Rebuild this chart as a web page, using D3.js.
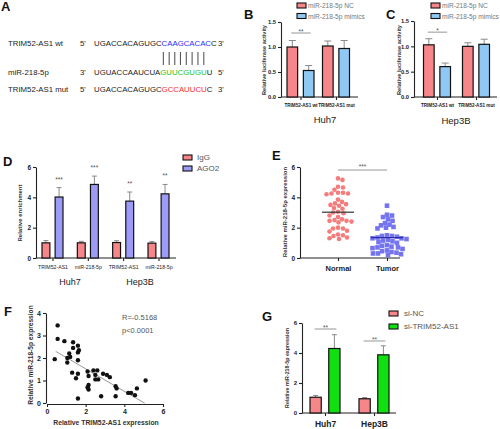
<!DOCTYPE html>
<html><head><meta charset="utf-8">
<script src="https://d3js.org/d3.v7.min.js"></script>
<style>
body{margin:0;background:#fff}
svg{display:block}
</style></head>
<body>
<svg id="chart" width="500" height="429"></svg>
<script>
// ---------------- DATA ----------------
const seqRowLabels = ["TRIM52-AS1 wt", "miR-218-5p", "TRIM52-AS1 mut"];
const seqRowEnds = [["5'", "3'"], ["3'", "5'"], ["5'", "3'"]];
const seqRowPre = ["UGACCACAGUGC", "UGUACCAAUCUA", "UGACCACAGUGC"];
const seqRowSite = ["CAAGCACAC", "GUUCGUGU", "GCCAUUCU"];
const seqRowPost = ["C", "U", "C"];
const pairedSiteCount = 8;

const lucSeries = ["miR-218-5p NC", "miR-218-5p mimics"];
const lucGroups = ["TRIM52-AS1 wt", "TRIM52-AS1 mut"];
const lucTicks = [0, 0.5, 1.0, 1.5];
const huh7LucMean = [[1.00, 1.02], [0.53, 0.97]];
const huh7LucSD = [[0.13, 0.10], [0.10, 0.16]];
const huh7LucSig = [{group: 0, level: 1.28, label: "**"}];
const hep3bLucMean = [[1.03, 1.00], [0.60, 1.04]];
const hep3bLucSD = [[0.12, 0.07], [0.07, 0.10]];
const hep3bLucSig = [{group: 0, level: 1.28, label: "*"}];

const ripSeries = ["IgG", "AGO2"];
const ripGroups = ["TRIM52-AS1", "miR-218-5p", "TRIM52-AS1", "miR-218-5p"];
const ripCells = ["Huh7", "Hep3B"];
const ripTicks = [0, 2, 4, 6];
const ripMean = [[1.0, 1.0, 1.02, 0.98], [4.02, 4.85, 3.75, 4.23]];
const ripSD = [[0.15, 0.1, 0.12, 0.1], [0.62, 0.55, 0.6, 0.62]];
const ripStars = ["***", "***", "**", "**"];

const tissueGroups = ["Normal", "Tumor"];
const exprTicks = [0, 2, 4, 6];
const normalExpr = [5.25, 5.15, 4.7, 4.65, 4.5, 4.3, 4.3, 4.25, 4.25, 4.2,
  3.85, 3.7, 3.6, 3.55, 3.5, 3.45, 3.3, 3.25, 3.05, 3.0,
  2.95, 2.8, 2.7, 2.55, 2.5, 2.45, 2.45, 2.4, 2.35, 2.0,
  1.95, 1.95, 1.8, 1.75, 1.55, 1.5, 1.45, 1.35, 1.25, 1.3];
const tumorExpr = [3.45, 2.85, 2.8, 2.7, 2.55, 2.45, 2.3, 2.2, 2.15, 2.05,
  2.0, 1.95, 1.5, 1.45, 1.45, 1.4, 1.35, 1.3, 1.3, 1.25,
  1.2, 1.15, 1.1, 1.05, 1.0, 0.85, 0.8, 0.75, 0.7, 0.7,
  0.65, 0.6, 0.5, 0.45, 0.4, 0.35, 0.3, 0.25, 0.2, 0.3];
const tissueSig = {level: 5.8, label: "***"};

const corrX = [0.55, 0.55, 0.9, 1.35, 1.6, 1.35, 1.65, 1.6, 1.15, 1.2,
  1.05, 0.4, 1.6, 1.05, 1.3, 1.6, 1.5, 1.6, 2.1, 2.15,
  2.15, 2.1, 2.15, 2.4, 2.6, 2.5, 2.5, 2.65, 2.8, 2.9,
  3.1, 3.25, 3.55, 3.6, 3.55, 4.2, 4.35, 4.55, 4.65, 5.1];
const corrY = [3.45, 2.85, 2.75, 2.7, 2.55, 2.45, 2.35, 2.25, 2.2, 2.05,
  2.0, 1.95, 1.9, 1.8, 1.35, 1.3, 1.1, 0.2, 1.4, 1.2,
  0.8, 0.7, 0.6, 1.45, 1.45, 1.25, 1.05, 1.05, 0.3, 1.3,
  1.25, 1.15, 0.75, 0.65, 0.3, 0.45, 0.45, 0.35, 0.65, 1.0];
const corrXTicks = [0, 2, 4, 6];
const corrYTicks = [0, 1, 2, 3, 4];
const corrStats = ["R=-0.5168", "p<0.0001"];
const corrFit = {intercept: 2.52, slope: -0.5, from: 0.45, to: 5.05};

const kdSeries = ["si-NC", "si-TRIM52-AS1"];
const kdGroups = ["Huh7", "Hep3B"];
const kdTicks = [0, 2, 4, 6];
const kdMean = [[1.05, 0.95], [4.3, 3.88]];
const kdSD = [[0.12, 0.08], [0.92, 0.6]];
const kdSig = [{group: 0, level: 5.6, label: "**"}, {group: 1, level: 4.8, label: "**"}];

// ---------------- STYLE ----------------
const FONT = '"Liberation Sans", Arial, sans-serif';
const INK = "#222";
const RED = "#f7868a";
const LBLUE = "#8fc9f3";
const LAV = "#9c9cf6";
const GREEN = "#10e010";
const ERR = "#8a8a8a";

const svg = d3.select("#chart").attr("font-family", FONT);

function letter(t, x, y) {
  svg.append("text").attr("x", x).attr("y", y).attr("font-size", 13)
    .attr("font-weight", "bold").attr("fill", "#111").text(t);
}
function styleAxis(sel, fs) {
  sel.attr("font-family", FONT).attr("font-size", fs);
  sel.selectAll("path,line").attr("stroke", INK).attr("stroke-width", 1.1);
  sel.selectAll("text").attr("fill", INK).attr("font-weight", "bold");
}
function yTitle(text, x, y, fs) {
  svg.append("text").attr("transform", `translate(${x},${y}) rotate(-90)`)
    .attr("text-anchor", "middle").attr("font-size", fs).attr("font-weight", "bold")
    .attr("fill", "#333").text(text);
}
function legend(items, colors, x, y0, dy, tx, fs, fill) {
  items.forEach((s, i) => {
    svg.append("rect").attr("x", x).attr("y", y0 + i * dy).attr("width", 9).attr("height", 5)
      .attr("fill", colors[i]).attr("stroke", "#111").attr("stroke-width", 1.1);
    svg.append("text").attr("x", tx).attr("y", y0 + i * dy + 5).attr("font-size", fs)
      .attr("fill", fill).text(s);
  });
}

function barPanel(o) {
  const g = svg.append("g");
  const y = d3.scaleLinear().domain(o.yDomain).range([o.yBottom, o.yTop]);
  const x = d3.scalePoint().domain(d3.range(o.groups.length)).range(o.groupRange);
  const xi = d3.scaleBand().domain(d3.range(o.series.length)).range([-o.half, o.half]).paddingInner(o.pad);
  const bw = xi.bandwidth();
  const ya = g.append("g").attr("transform", `translate(${o.axisX},0)`)
    .call(d3.axisLeft(y).tickValues(o.ticks).tickFormat(o.fmt).tickSize(3).tickSizeOuter(0).tickPadding(2));
  styleAxis(ya, o.tickFont);
  const xa = g.append("g").attr("transform", `translate(0,${o.yBottom})`)
    .call(d3.axisBottom(x).tickFormat(i => o.groups[i]).tickSize(3).tickPadding(o.xPad));
  xa.select(".domain").remove();
  styleAxis(xa, o.xFont);
  if (!o.xBold) xa.selectAll("text").attr("font-weight", "normal");
  g.append("line").attr("x1", o.axisX).attr("x2", o.axisEnd).attr("y1", o.yBottom).attr("y2", o.yBottom)
    .attr("stroke", INK).attr("stroke-width", 1.1);
  o.series.forEach((s, si) => {
    o.groups.forEach((gr, gi) => {
      const v = o.values[si][gi], e = o.errs[si][gi];
      const bx = x(gi) + xi(si), cx = bx + bw / 2;
      g.append("line").attr("x1", cx).attr("x2", cx).attr("y1", y(v)).attr("y2", y(v + e))
        .attr("stroke", ERR).attr("stroke-width", 1);
      g.append("line").attr("x1", cx - o.cap).attr("x2", cx + o.cap).attr("y1", y(v + e)).attr("y2", y(v + e))
        .attr("stroke", ERR).attr("stroke-width", 1);
      g.append("rect").attr("x", bx).attr("y", y(v)).attr("width", bw).attr("height", y(0) - y(v))
        .attr("fill", o.colors[si]).attr("stroke", "#111").attr("stroke-width", 1.2);
    });
  });
  (o.sig || []).forEach(s => {
    const x1 = x(s.group) + xi(0) + bw / 2 - 1, x2 = x(s.group) + xi(1) + bw / 2 + 2;
    g.append("line").attr("x1", x1).attr("x2", x2).attr("y1", y(s.level)).attr("y2", y(s.level))
      .attr("stroke", ERR).attr("stroke-width", 0.9);
    g.append("text").attr("x", (x1 + x2) / 2).attr("y", y(s.level) + 0.5).attr("text-anchor", "middle")
      .attr("font-size", o.sigFont).attr("fill", "#555").text(s.label);
  });
  (o.stars || []).forEach((st, gi) => {
    const cx = x(gi) + xi(1) + bw / 2;
    const top = y(o.values[1][gi] + o.errs[1][gi]);
    g.append("text").attr("x", cx).attr("y", top - 6).attr("text-anchor", "middle")
      .attr("font-size", o.sigFont).attr("fill", "#555").text(st);
  });
  return {x, y};
}

// ---------------- PANEL A ----------------
letter("A", 1, 11);
const aRowsY = [46, 75, 92];
const siteColors = ["#2b2bff", "#22c822", "#ff2b2b"];
const aG = svg.append("g").attr("font-size", 7.8).attr("fill", INK);
let mirNode = null;
seqRowLabels.forEach((lab, i) => {
  aG.append("text").attr("x", 8).attr("y", aRowsY[i]).text(lab);
  aG.append("text").attr("x", 80).attr("y", aRowsY[i]).text(seqRowEnds[i][0]);
  const t = aG.append("text").attr("x", 94).attr("y", aRowsY[i]);
  t.append("tspan").text(seqRowPre[i]);
  t.append("tspan").attr("fill", siteColors[i]).text(seqRowSite[i]);
  t.append("tspan").text(seqRowPost[i]);
  aG.append("text").attr("x", 218).attr("y", aRowsY[i]).text(seqRowEnds[i][1]);
  if (i === 1) mirNode = t.node();
});
d3.range(pairedSiteCount).forEach(k => {
  const idx = seqRowPre[1].length + k;
  const ext = mirNode.getExtentOfChar(idx);
  const cx = ext.x + ext.width / 2;
  aG.append("line").attr("x1", cx).attr("x2", cx).attr("y1", 52).attr("y2", 65)
    .attr("stroke", "#333").attr("stroke-width", 0.9);
});

// ---------------- PANEL B ----------------
letter("B", 244, 19);
legend(lucSeries, [RED, LBLUE], 297, 3, 10.5, 308, 6.6, "#777");
barPanel({yDomain: [0, 1.5], yBottom: 97, yTop: 22, axisX: 281, axisEnd: 358,
  groups: lucGroups, series: lucSeries, groupRange: [300.5, 336], half: 13.5, pad: 0.35,
  ticks: lucTicks, fmt: d3.format(".1f"), tickFont: 5.8, xFont: 4.6, xPad: 4, xBold: true,
  values: huh7LucMean, errs: huh7LucSD, colors: [RED, LBLUE], cap: 3.5, sig: huh7LucSig, sigFont: 6.5});
yTitle("Relative luciferase activity", 266, 60, 5.6);
svg.append("text").attr("x", 325).attr("y", 123).attr("text-anchor", "middle").attr("font-size", 9.5)
  .attr("fill", INK).text("Huh7");

// ---------------- PANEL C ----------------
letter("C", 386, 19);
legend(lucSeries, [RED, LBLUE], 431, 3, 10.5, 442, 6.6, "#777");
barPanel({yDomain: [0, 1.5], yBottom: 97, yTop: 21, axisX: 414, axisEnd: 497,
  groups: lucGroups, series: lucSeries, groupRange: [437, 476], half: 13.5, pad: 0.35,
  ticks: lucTicks, fmt: d3.format(".1f"), tickFont: 5.8, xFont: 4.6, xPad: 4, xBold: true,
  values: hep3bLucMean, errs: hep3bLucSD, colors: [RED, LBLUE], cap: 3.5, sig: hep3bLucSig, sigFont: 6.5});
yTitle("Relative luciferase activity", 401, 60, 5.6);
svg.append("text").attr("x", 456).attr("y", 124).attr("text-anchor", "middle").attr("font-size", 9.5)
  .attr("fill", INK).text("Hep3B");

// ---------------- PANEL D ----------------
letter("D", 3, 166);
legend(ripSeries, [RED, LAV], 183, 155, 11, 197, 8, "#555");
barPanel({yDomain: [0, 6], yBottom: 258, yTop: 167, axisX: 36, axisEnd: 176,
  groups: ripGroups, series: ripSeries, groupRange: [52.5, 158.5], half: 10.5, pad: 0.4,
  ticks: ripTicks, fmt: d3.format("d"), tickFont: 6.5, xFont: 5.2, xPad: 4, xBold: false,
  values: ripMean, errs: ripSD, colors: [RED, LAV], cap: 2.5, stars: ripStars, sigFont: 6.5});
yTitle("Relative enrichment", 22, 213, 6);
svg.append("text").attr("x", 70).attr("y", 285).attr("text-anchor", "middle").attr("font-size", 9)
  .attr("fill", INK).text(ripCells[0]);
svg.append("text").attr("x", 140).attr("y", 285).attr("text-anchor", "middle").attr("font-size", 9)
  .attr("fill", INK).text(ripCells[1]);

// ---------------- PANEL E ----------------
letter("E", 272, 160);
(function () {
  const g = svg.append("g");
  const y = d3.scaleLinear().domain([0, 6]).range([258, 167]);
  const x = d3.scalePoint().domain(tissueGroups).range([338, 387]);
  const ya = g.append("g").attr("transform", "translate(300,0)")
    .call(d3.axisLeft(y).tickValues(exprTicks).tickFormat(d3.format("d")).tickSize(3).tickSizeOuter(0).tickPadding(2));
  styleAxis(ya, 6.5);
  const xa = g.append("g").attr("transform", "translate(0,258)")
    .call(d3.axisBottom(x).tickSize(3).tickPadding(5));
  xa.select(".domain").remove();
  styleAxis(xa, 7.5);
  g.append("line").attr("x1", 300).attr("x2", 400).attr("y1", 258).attr("y2", 258)
    .attr("stroke", INK).attr("stroke-width", 1.1);

  function swarm(values, cx, r) {
    const placed = [];
    const order = values.map((v, i) => i).sort((a, b) => values[b] - values[a]);
    order.forEach(i => {
      const py = y(values[i]);
      for (let k = 0; k < 400; k++) {
        const off = (k % 2 ? 1 : -1) * Math.ceil(k / 2) * 0.5;
        const px = cx + off;
        if (placed.every(p => (p.x - px) ** 2 + (p.y - py) ** 2 >= (2 * r) ** 2)) {
          placed.push({x: px, y: py}); break;
        }
      }
    });
    return placed;
  }
  const r = 2.3;
  swarm(normalExpr, x("Normal"), r).forEach(p => {
    g.append("circle").attr("cx", p.x).attr("cy", p.y).attr("r", r).attr("fill", "#f47c7c");
  });
  swarm(tumorExpr, x("Tumor"), r).forEach(p => {
    g.append("rect").attr("x", p.x - r).attr("y", p.y - r).attr("width", 2 * r).attr("height", 2 * r)
      .attr("fill", "#7474ee");
  });
  g.append("line").attr("x1", x("Normal") - 16).attr("x2", x("Normal") + 16)
    .attr("y1", y(d3.mean(normalExpr))).attr("y2", y(d3.mean(normalExpr))).attr("stroke", "#333").attr("stroke-width", 1.2);
  g.append("line").attr("x1", x("Tumor") - 16).attr("x2", x("Tumor") + 16)
    .attr("y1", y(d3.mean(tumorExpr))).attr("y2", y(d3.mean(tumorExpr))).attr("stroke", "#2a2aa8").attr("stroke-width", 1.2);
  g.append("line").attr("x1", x("Normal")).attr("x2", x("Tumor")).attr("y1", y(tissueSig.level)).attr("y2", y(tissueSig.level))
    .attr("stroke", ERR).attr("stroke-width", 0.9);
  g.append("text").attr("x", (x("Normal") + x("Tumor")) / 2).attr("y", y(tissueSig.level) - 1)
    .attr("text-anchor", "middle").attr("font-size", 6.5).attr("fill", "#555").text(tissueSig.label);
})();
yTitle("Relative miR-218-5p expression", 287, 212, 6);

// ---------------- PANEL F ----------------
letter("F", 4, 316);
(function () {
  const g = svg.append("g");
  const x = d3.scaleLinear().domain([0, 6]).range([47, 163]);
  const y = d3.scaleLinear().domain([0, 4]).range([403, 313]);
  const ya = g.append("g").attr("transform", "translate(46,0)")
    .call(d3.axisLeft(y).tickValues(corrYTicks).tickFormat(d3.format("d")).tickSize(3).tickSizeOuter(0).tickPadding(2));
  styleAxis(ya, 7);
  const xa = g.append("g").attr("transform", "translate(0,404)")
    .call(d3.axisBottom(x).tickValues(corrXTicks).tickFormat(d3.format("d")).tickSize(3).tickSizeOuter(0).tickPadding(2));
  styleAxis(xa, 7);
  g.append("line").attr("x1", x(corrFit.from)).attr("x2", x(corrFit.to))
    .attr("y1", y(corrFit.intercept + corrFit.slope * corrFit.from))
    .attr("y2", y(corrFit.intercept + corrFit.slope * corrFit.to))
    .attr("stroke", "#999").attr("stroke-width", 1);
  corrX.forEach((v, i) => {
    g.append("circle").attr("cx", x(v)).attr("cy", y(corrY[i])).attr("r", 2.2).attr("fill", "#111");
  });
  corrStats.forEach((s, i) => {
    g.append("text").attr("x", 122).attr("y", 320 + i * 13).attr("font-size", 7.5).attr("fill", "#555").text(s);
  });
})();
yTitle("Relative miR-218-5p expression", 33, 355, 6.6);
svg.append("text").attr("x", 106).attr("y", 425).attr("text-anchor", "middle").attr("font-size", 6.8)
  .attr("font-weight", "bold").attr("fill", "#333").text("Relative TRIM52-AS1 expression");

// ---------------- PANEL G ----------------
letter("G", 262, 321);
legend(kdSeries, [RED, GREEN], 389, 311, 13, 404, 8, "#555");
barPanel({yDomain: [0, 6], yBottom: 413, yTop: 323, axisX: 302, axisEnd: 396,
  groups: kdGroups, series: kdSeries, groupRange: [325, 374], half: 15, pad: 0.4,
  ticks: kdTicks, fmt: d3.format("d"), tickFont: 6, xFont: 8.5, xPad: 5, xBold: true,
  values: kdMean, errs: kdSD, colors: [RED, GREEN], cap: 2.5, sig: kdSig, sigFont: 6.5});
yTitle("Relative miR-218-5p expression", 289, 368, 5.3);
</script>
</body></html>
